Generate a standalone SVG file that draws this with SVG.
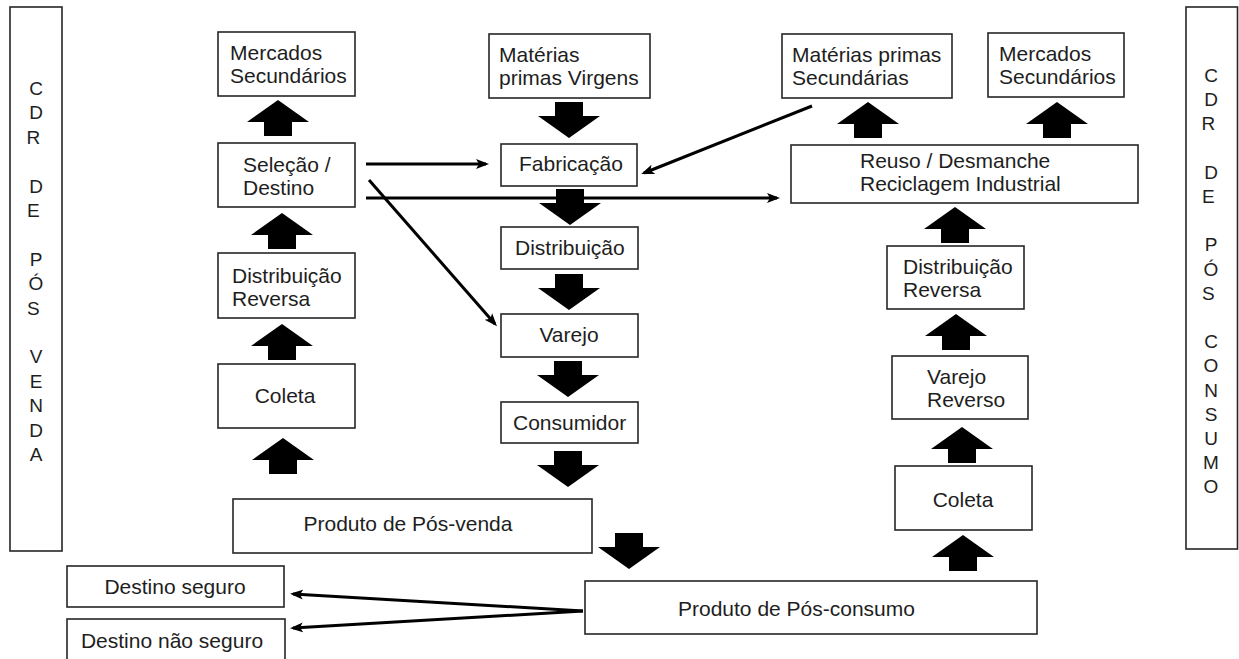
<svg xmlns="http://www.w3.org/2000/svg" width="1239" height="659" viewBox="0 0 1239 659">
  <style>
    .box { fill: #ffffff; stroke: #262626; stroke-width: 1.6; }
    .t { font-family: "Liberation Sans", Arial, sans-serif; font-size: 21px; fill: #1e1e1e; }
    .c { text-anchor: middle; }
    .v { font-family: "Liberation Sans", Arial, sans-serif; font-size: 19px; fill: #1e1e1e; text-anchor: middle; }
    .link { fill: none; stroke: #000000; stroke-width: 3; marker-end: url(#head); }
    .block { fill: #000000; }
  </style>
  <defs>
    <marker id="head" markerUnits="userSpaceOnUse" markerWidth="14" markerHeight="12" refX="10" refY="6" orient="auto">
      <path d="M0,1 L13,6 L0,11 L3,6 Z" fill="#000000"/>
    </marker>
    <!-- thick block arrows, origin at the tip -->
    <path id="up" class="block" d="M0,0 L31,22 L14,22 L14,36 L-14,36 L-14,22 L-31,22 Z"/>
    <path id="down" class="block" d="M0,0 L31,-22 L14,-22 L14,-36 L-14,-36 L-14,-22 L-31,-22 Z"/>
  </defs>

  <rect x="0" y="0" width="1239" height="659" fill="#ffffff"/>

  <!-- side bands -->
  <g id="cdr-pos-venda">
    <rect class="box" x="10" y="7" width="52" height="544"/>
    <text class="v">
      <tspan x="36" y="95">C</tspan><tspan x="36" y="119.4">D</tspan><tspan x="36" y="143.8">R</tspan>
      <tspan x="36" y="192.6">D</tspan><tspan x="36" y="217">E</tspan>
      <tspan x="36" y="265.8">P</tspan><tspan x="36" y="290.2">Ó</tspan><tspan x="36" y="314.6">S</tspan>
      <tspan x="36" y="363.4">V</tspan><tspan x="36" y="387.8">E</tspan><tspan x="36" y="412.2">N</tspan><tspan x="36" y="436.6">D</tspan><tspan x="36" y="461">A</tspan>
    </text>
  </g>
  <g id="cdr-pos-consumo">
    <rect class="box" x="1186" y="7" width="51.5" height="542"/>
    <text class="v">
      <tspan x="1211" y="82">C</tspan><tspan x="1211" y="106.2">D</tspan><tspan x="1211" y="130.4">R</tspan>
      <tspan x="1211" y="178.8">D</tspan><tspan x="1211" y="203">E</tspan>
      <tspan x="1211" y="251.4">P</tspan><tspan x="1211" y="275.6">Ó</tspan><tspan x="1211" y="299.8">S</tspan>
      <tspan x="1211" y="348.2">C</tspan><tspan x="1211" y="372.4">O</tspan><tspan x="1211" y="396.6">N</tspan><tspan x="1211" y="420.8">S</tspan><tspan x="1211" y="445">U</tspan><tspan x="1211" y="469.2">M</tspan><tspan x="1211" y="493.4">O</tspan>
    </text>
  </g>

  <!-- after-sale reverse channel -->
  <g id="mercados-sec-1">
    <rect class="box" x="218" y="32" width="137" height="64"/>
    <text class="t" x="230" y="60">Mercados</text>
    <text class="t" x="230" y="83">Secundários</text>
  </g>
  <g id="selecao-destino">
    <rect class="box" x="218" y="143" width="137" height="64"/>
    <text class="t" x="243" y="172">Seleção /</text>
    <text class="t" x="243" y="195">Destino</text>
  </g>
  <g id="dist-reversa-1">
    <rect class="box" x="218" y="253" width="137" height="65"/>
    <text class="t" x="232" y="283">Distribuição</text>
    <text class="t" x="232" y="306">Reversa</text>
  </g>
  <g id="coleta-1">
    <rect class="box" x="218" y="364" width="137" height="64"/>
    <text class="t c" x="285" y="403">Coleta</text>
  </g>
  <g id="produto-pos-venda">
    <rect class="box" x="233" y="499" width="359" height="54"/>
    <text class="t c" x="408" y="531">Produto de Pós-venda</text>
  </g>

  <!-- forward chain -->
  <g id="mp-virgens">
    <rect class="box" x="489" y="34" width="161" height="64"/>
    <text class="t" x="499" y="62">Matérias</text>
    <text class="t" x="499" y="85">primas Virgens</text>
  </g>
  <g id="fabricacao">
    <rect class="box" x="501" y="144" width="136" height="42"/>
    <text class="t" x="519" y="171">Fabricação</text>
  </g>
  <g id="distribuicao">
    <rect class="box" x="501" y="227" width="137" height="42"/>
    <text class="t" x="515" y="255">Distribuição</text>
  </g>
  <g id="varejo">
    <rect class="box" x="501" y="314" width="137" height="43"/>
    <text class="t c" x="569" y="342">Varejo</text>
  </g>
  <g id="consumidor">
    <rect class="box" x="501" y="402" width="137" height="41"/>
    <text class="t" x="513" y="430">Consumidor</text>
  </g>

  <!-- post-consumption reverse channel -->
  <g id="mp-secundarias">
    <rect class="box" x="782" y="34" width="170" height="64"/>
    <text class="t" x="792" y="62">Matérias primas</text>
    <text class="t" x="792" y="85">Secundárias</text>
  </g>
  <g id="mercados-sec-2">
    <rect class="box" x="988" y="33" width="136" height="64"/>
    <text class="t" x="999" y="61">Mercados</text>
    <text class="t" x="999" y="84">Secundários</text>
  </g>
  <g id="reuso">
    <rect class="box" x="791" y="145" width="347" height="58"/>
    <text class="t" x="860" y="168">Reuso / Desmanche</text>
    <text class="t" x="860" y="191">Reciclagem Industrial</text>
  </g>
  <g id="dist-reversa-2">
    <rect class="box" x="887" y="246" width="137" height="63"/>
    <text class="t" x="903" y="274">Distribuição</text>
    <text class="t" x="903" y="297">Reversa</text>
  </g>
  <g id="varejo-reverso">
    <rect class="box" x="892" y="356" width="136" height="63"/>
    <text class="t" x="927" y="384">Varejo</text>
    <text class="t" x="927" y="407">Reverso</text>
  </g>
  <g id="coleta-2">
    <rect class="box" x="895" y="466" width="137" height="64"/>
    <text class="t c" x="963" y="507">Coleta</text>
  </g>
  <g id="produto-pos-consumo">
    <rect class="box" x="585" y="581" width="452" height="53"/>
    <text class="t" x="678" y="616">Produto de Pós-consumo</text>
  </g>
  <g id="destino-seguro">
    <rect class="box" x="67" y="566" width="217" height="41"/>
    <text class="t c" x="175" y="594">Destino seguro</text>
  </g>
  <g id="destino-nao-seguro">
    <rect class="box" x="67" y="619" width="218" height="45"/>
    <text class="t c" x="172" y="648">Destino não seguro</text>
  </g>

  <!-- connectors -->
  <g id="connectors">
    <!-- block arrows -->
    <use href="#up" x="278" y="100"/>
    <use href="#up" x="282" y="213"/>
    <use href="#up" x="282" y="324"/>
    <use href="#up" x="283" y="438"/>

    <use href="#down" x="569" y="138"/>
    <use href="#down" x="570" y="225"/>
    <use href="#down" x="569" y="310"/>
    <use href="#down" x="568" y="397"/>
    <use href="#down" x="568" y="487"/>
    <use href="#down" x="629" y="569"/>

    <use href="#up" x="868" y="102"/>
    <use href="#up" x="1057" y="102"/>
    <use href="#up" x="955" y="207"/>
    <use href="#up" x="956" y="314"/>
    <use href="#up" x="962" y="427"/>
    <use href="#up" x="963" y="535"/>

    <!-- thin arrows -->
    <line class="link" x1="366" y1="164" x2="486" y2="164"/>
    <line class="link" x1="366" y1="198" x2="777" y2="198"/>
    <line class="link" x1="369" y1="180" x2="495" y2="324"/>
    <line class="link" x1="812" y1="106" x2="644" y2="173"/>
    <line class="link" x1="583" y1="611" x2="293" y2="594"/>
    <line class="link" x1="583" y1="611" x2="293" y2="628"/>
  </g>
</svg>
